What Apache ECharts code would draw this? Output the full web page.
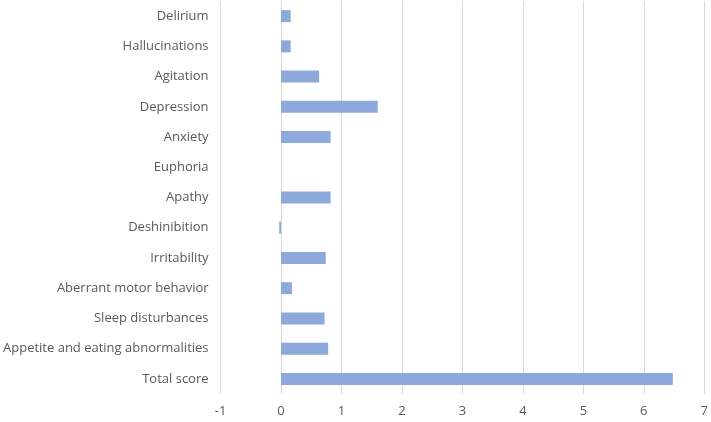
<!DOCTYPE html>
<html>
<head>
<meta charset="utf-8">
<script src="https://cdn.jsdelivr.net/npm/echarts@6/dist/echarts.min.js"></script>
<style>
  html, body { margin: 0; padding: 0; background: #fff; }
  #main { width: 711px; height: 422px; }
</style>
</head>
<body>
<div id="main"></div>
<script>
// symptom names, top to bottom
var categories = ['Delirium', 'Hallucinations', 'Agitation', 'Depression', 'Anxiety', 'Euphoria',
  'Apathy', 'Deshinibition', 'Irritability', 'Aberrant motor behavior', 'Sleep disturbances',
  'Appetite and eating abnormalities', 'Total score'];
// bar values
var values = [0.16, 0.16, 0.63, 1.6, 0.82, 0, 0.82, -0.03, 0.74, 0.18, 0.72, 0.78, 6.48];
var xTicks = [-1, 0, 1, 2, 3, 4, 5, 6, 7];

var chart = echarts.init(document.getElementById('main'));

var option = {
  animation: false,
  grid: { left: 220, right: 6, top: 1, bottom: 28 },
  xAxis: {
    type: 'value',
    min: xTicks[0],
    max: xTicks[xTicks.length - 1],
    interval: 1,
    axisLine: { show: false },
    axisTick: { show: false },
    axisLabel: { color: '#595959', fontSize: 13, fontFamily: 'Open Sans', margin: 11 },
    splitLine: { lineStyle: { color: '#d9d9d9', width: 1 } }
  },
  yAxis: {
    type: 'category',
    data: categories,
    inverse: true,
    axisLine: { show: false },
    axisTick: { show: false },
    axisLabel: { color: '#595959', fontSize: 13, fontFamily: 'Open Sans', margin: 12 }
  },
  series: [{
    type: 'bar',
    data: values,
    barWidth: 12,
    itemStyle: { color: '#8DA9DB' }
  }]
};

chart.setOption(option);
</script>
</body>
</html>
